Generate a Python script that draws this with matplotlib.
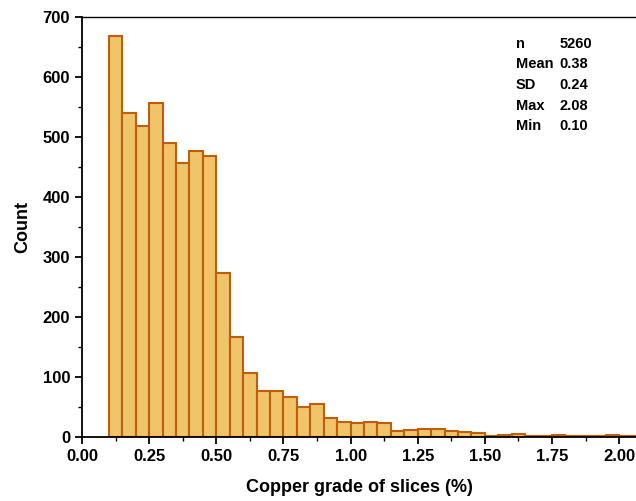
import numpy as np
import matplotlib.pyplot as plt
from matplotlib.ticker import MultipleLocator

plt.rcParams['font.family'] = ['Liberation Sans', 'DejaVu Sans']

# histogram bins (width 0.05, starting at 0.10) and counts
bin_left = np.round(np.arange(0.10, 2.10, 0.05), 2)
counts = [668, 540, 518, 556, 490, 456, 476, 469, 273, 167,
          107, 77, 77, 66, 50, 54, 31, 25, 23, 24,
          23, 9, 12, 13, 13, 10, 8, 7, 2, 3,
          5, 1, 1, 3, 2, 1, 1, 3, 1, 1]

stat_names = ["n", "Mean", "SD", "Max", "Min"]
stat_values = ["5260", "0.38", "0.24", "2.08", "0.10"]

fig = plt.figure(figsize=(6.36, 5.01), dpi=100)
ax = fig.add_axes([0.129, 0.128, 0.871, 0.838])

ax.bar(bin_left, counts, width=0.05, align="edge",
       color="#F0C468", edgecolor="#BF5E0C", linewidth=1.5)

ax.set_xlim(0, 2.063)
ax.set_ylim(0, 700)
ax.xaxis.set_major_locator(MultipleLocator(0.25))
ax.xaxis.set_minor_locator(MultipleLocator(0.125))
ax.yaxis.set_major_locator(MultipleLocator(100))
ax.yaxis.set_minor_locator(MultipleLocator(50))
ax.xaxis.set_major_formatter(plt.FormatStrFormatter("%.2f"))

ax.spines["right"].set_visible(False)
for s in ["left", "bottom"]:
    ax.spines[s].set_linewidth(1.3)
ax.spines["top"].set_linewidth(1.0)

ax.tick_params(which="major", direction="out", length=5, width=1.3, labelsize=12)
ax.tick_params(which="minor", direction="out", length=3, width=1.0)
for lab in ax.get_xticklabels() + ax.get_yticklabels():
    lab.set_fontweight("bold")

ax.set_xlabel("Copper grade of slices (%)", fontsize=13, fontweight="bold", labelpad=11)
ax.set_ylabel("Count", fontsize=13, fontweight="bold", labelpad=8)

# summary statistics box, top right
for i, (name, val) in enumerate(zip(stat_names, stat_values)):
    y = 0.936 - i * 0.049
    ax.text(0.783, y, name, transform=ax.transAxes, fontsize=10.5, fontweight="bold", va="center")
    ax.text(0.862, y, val, transform=ax.transAxes, fontsize=10.5, fontweight="bold", va="center")

plt.savefig("out.png", dpi=100)
